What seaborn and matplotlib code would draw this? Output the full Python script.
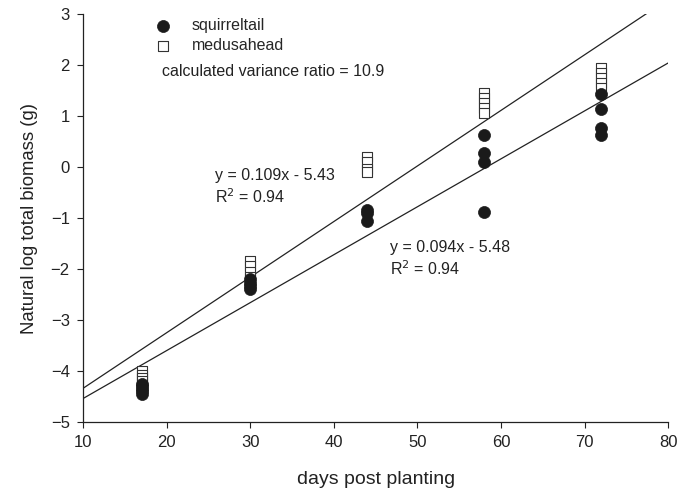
import matplotlib
matplotlib.use("Agg")
import matplotlib.pyplot as plt
import seaborn as sns
import numpy as np
import pandas as pd

# data
sq_days = [17, 17, 17, 17, 17, 30, 30, 30, 30, 44, 44, 44, 58, 58, 58, 58, 72, 72, 72, 72]
sq_vals = [-4.25, -4.3, -4.35, -4.4, -4.45, -2.2, -2.27, -2.33, -2.4, -0.85, -0.9, -1.05,
           0.62, 0.27, 0.1, -0.88, 1.43, 1.13, 0.76, 0.62]
md_days = [17, 17, 17, 17, 30, 30, 30, 30, 44, 44, 44, 44, 58, 58, 58, 58, 58, 72, 72, 72, 72, 72]
md_vals = [-4.0, -4.07, -4.13, -4.2, -1.85, -1.95, -2.05, -2.15, 0.2, 0.1, -0.03, -0.1,
           1.45, 1.35, 1.25, 1.15, 1.05, 1.95, 1.85, 1.75, 1.65, 1.55]
md_fit = (0.109, -5.43)
sq_fit = (0.094, -5.48)
x_ticks = [10, 20, 30, 40, 50, 60, 70, 80]
y_ticks = [-5, -4, -3, -2, -1, 0, 1, 2, 3]

sns.set_theme(style="ticks")
plt.rcParams['font.family'] = ['Liberation Sans', 'DejaVu Sans']

df = pd.concat([
    pd.DataFrame({"days": sq_days, "val": sq_vals, "species": "squirreltail"}),
    pd.DataFrame({"days": md_days, "val": md_vals, "species": "medusahead"}),
])

fig = plt.figure(figsize=(6.77, 4.93), dpi=100)
ax = fig.add_axes([0.1226, 0.144, 0.8644, 0.8276])

sns.scatterplot(data=df[df.species == "squirreltail"], x="days", y="val", ax=ax,
                marker="o", s=75, color="#1a1a1a", edgecolor="#1a1a1a", linewidth=0.5,
                label="squirreltail", zorder=3)
sns.scatterplot(data=df[df.species == "medusahead"], x="days", y="val", ax=ax,
                marker="s", s=55, facecolor="white", edgecolor="#333333", linewidth=0.8,
                label="medusahead", zorder=2)

xx = np.linspace(10, 80, 200)
for m, b in (md_fit, sq_fit):
    yy = m * xx + b
    mask = yy <= 3.05
    ax.plot(xx[mask], yy[mask], color="#222222", linewidth=0.9, zorder=1)

ax.set_xlim(10, 80)
ax.set_ylim(-5, 3)
ax.set_xticks(x_ticks)
ax.set_yticks(y_ticks)
ax.tick_params(labelsize=12, length=4.5, width=0.8, colors="#222222", pad=5)
for s in ("top", "right"):
    ax.spines[s].set_visible(False)
for s in ("left", "bottom"):
    ax.spines[s].set_linewidth(0.9)
    ax.spines[s].set_color("#222222")

ax.set_xlabel("days post planting", fontsize=14, labelpad=15, color="#222222")
ax.set_ylabel("Natural log total biomass (g)", fontsize=13.3, labelpad=9, color="#222222")

leg = ax.legend(loc="upper left", bbox_to_anchor=(0.093, 1.013), frameon=False, fontsize=11.5,
                handletextpad=0.8, borderaxespad=0.2, labelspacing=0.3)

txt = dict(transform=ax.transAxes, fontsize=11.5, va="center", color="#222222")
ax.text(0.135, 0.86, "calculated variance ratio = 10.9", **txt)
ax.text(0.226, 0.603, "y = 0.109x - 5.43", **txt)
ax.text(0.226, 0.552, "R$^2$ = 0.94", **txt)
ax.text(0.525, 0.4265, "y = 0.094x - 5.48", **txt)
ax.text(0.525, 0.375, "R$^2$ = 0.94", **txt)

fig.savefig("out.png", dpi=100)
